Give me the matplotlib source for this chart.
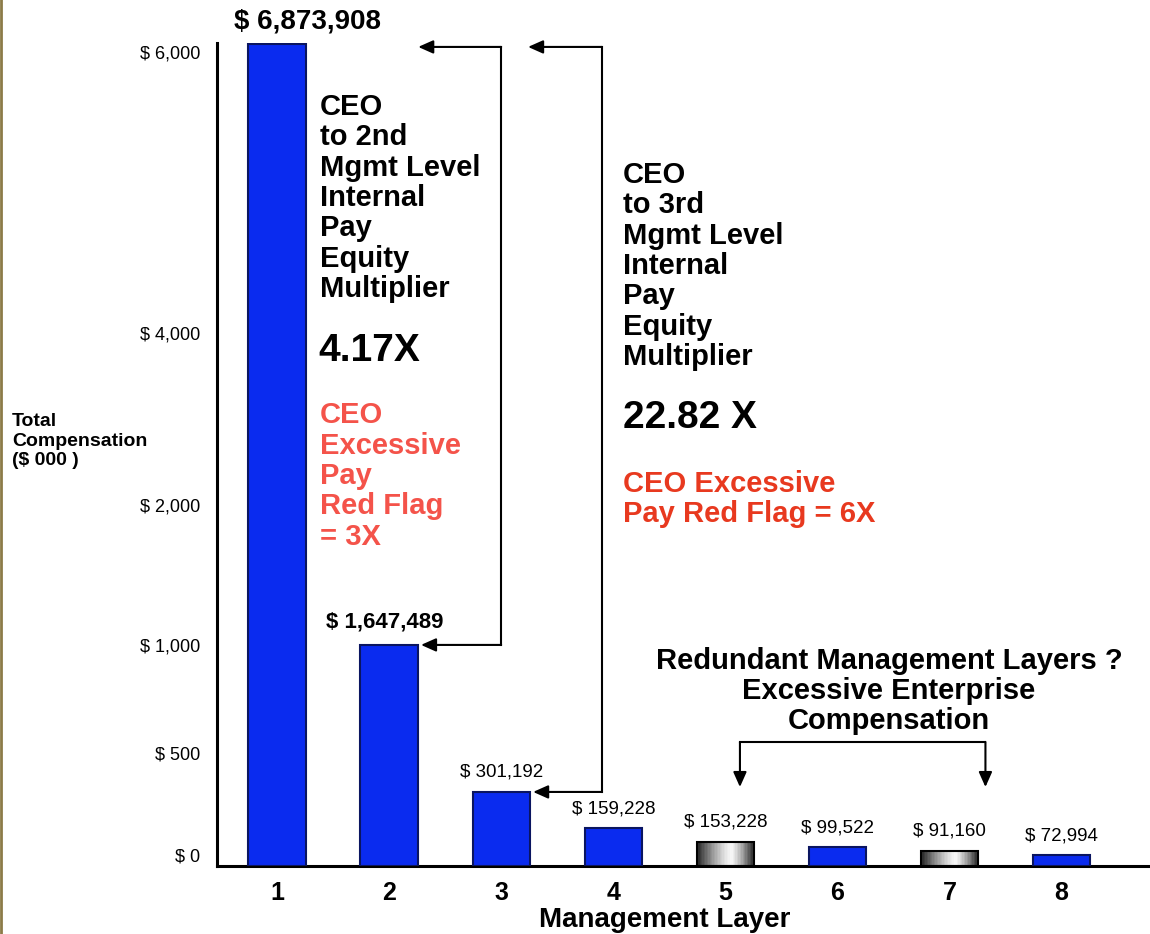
import numpy as np
import matplotlib
matplotlib.use('Agg')
import matplotlib.pyplot as plt
from matplotlib.transforms import ScaledTranslation
from matplotlib.lines import Line2D

plt.rcParams['font.family'] = ['Liberation Sans', 'DejaVu Sans']

# data
layers = [1, 2, 3, 4, 5, 6, 7, 8]
comp_labels = ['$ 6,873,908', '$ 1,647,489', '$ 301,192', '$ 159,228',
               '$ 153,228', '$ 99,522', '$ 91,160', '$ 72,994']
bar_heights = [6135, 1079, 363, 186, 118, 93, 74, 54]
gray_layers = [5, 7]
ytick_vals = [0, 500, 1000, 2000, 4000, 6000]
ytick_labels = ['$ 0', '$ 500', '$ 1,000', '$ 2,000', '$ 4,000', '$ 6,000']

# piecewise axis: value -> pixel height above the baseline
knot_vals = [-1000, 0, 500, 1000, 2000, 4000, 6000, 20000]
knot_px = [-204, 0, 102, 210, 350, 522, 803, 2770]


def fwd(v):
    return np.interp(v, knot_vals, knot_px)


def inv(p):
    return np.interp(p, knot_px, knot_vals)


W, H = 1150, 934
fig = plt.figure(figsize=(11.5, 9.34), dpi=100)
fig.patch.set_facecolor('white')


def fx(px):
    return px / W


def fy(py):
    return 1 - py / H


ax = fig.add_axes([fx(217), fy(866), (1150 - 217) / W, (866 - 43) / H])
ax.set_yscale('function', functions=(fwd, inv))
ax.set_ylim(0, 6142)
ax.set_xlim(0.465, 8.788)

blue = '#0A2BEF'
edge = '#0A1560'
bw = 0.51
for x, h in zip(layers, bar_heights):
    if x in gray_layers:
        # metallic look: thin slices with a grey ramp
        n = 40
        sw = bw / n
        for i in range(n):
            t = (i + 0.5) / n
            pk = 0.6
            d = (t - pk) / pk if t < pk else (t - pk) / (1 - pk)
            g = 0.97 - 0.85 * abs(d) ** 1.3
            ax.bar(x - bw / 2 + (i + 0.5) * sw, h, width=sw * 1.02,
                   color=str(g), linewidth=0, zorder=2)
        ax.bar(x, h, width=bw, facecolor='none', edgecolor='black',
               linewidth=1.5, zorder=3)
    else:
        ax.bar(x, h, width=bw, color=blue, edgecolor=edge, linewidth=1.5, zorder=3)

# value labels
for i, (x, h, lab) in enumerate(zip(layers, bar_heights, comp_labels)):
    if i == 0:
        ax.annotate(lab, (x, h), xytext=(22, 16), textcoords='offset points',
                    ha='center', va='center', fontsize=20, fontweight='bold',
                    annotation_clip=False)
    elif i == 1:
        ax.annotate(lab, (x, h), xytext=(-3, 16.5), textcoords='offset points',
                    ha='center', va='center', fontsize=16, fontweight='bold')
    else:
        ax.annotate(lab, (x, h), xytext=(0, 14), textcoords='offset points',
                    ha='center', va='center', fontsize=13.5)

# axes styling
for s in ['top', 'right']:
    ax.spines[s].set_visible(False)
ax.spines['left'].set_linewidth(2.2)
ax.spines['bottom'].set_linewidth(2.2)
ax.set_xticks(layers)
ax.set_xticklabels([str(l) for l in layers], fontsize=18, fontweight='bold')
ax.tick_params(axis='x', length=0, pad=11)
ax.set_yticks(ytick_vals)
ax.set_yticklabels(ytick_labels, fontsize=13)
ax.tick_params(axis='y', length=0, pad=12)
ax.minorticks_off()
shift = ScaledTranslation(0, 0.11, fig.dpi_scale_trans)
for tk in ax.yaxis.get_major_ticks():
    tk.label1.set_transform(tk.label1.get_transform() + shift)

ax.set_xlabel('Management Layer', fontsize=20, fontweight='bold')
ax.xaxis.set_label_coords((665 - 217) / 933, -(920 - 866) / 823)
ax.xaxis.label.set_va('center')

fig.text(fx(12), fy(441), 'Total\nCompensation\n($ 000 )', fontsize=14,
         fontweight='bold', ha='left', va='center', linespacing=1.2)

# arrows
lw = 1.5
ap = dict(arrowstyle='-|>,head_length=0.9,head_width=0.4', color='black',
          lw=lw, shrinkA=0, shrinkB=0)
top_y = 6114
xa, xb = 3.0, 3.9
# CEO -> layer 2
ax.plot([xa, xa], [bar_heights[1], top_y], color='black', lw=lw, clip_on=False)
ax.annotate('', xy=(2 + bw / 2 + 0.03, bar_heights[1]), xytext=(xa, bar_heights[1]),
            arrowprops=ap)
ax.annotate('', xy=(2.26, top_y), xytext=(xa, top_y), arrowprops=ap,
            annotation_clip=False)
# CEO -> layer 3
ax.plot([xb, xb], [bar_heights[2], top_y], color='black', lw=lw, clip_on=False)
ax.annotate('', xy=(3 + bw / 2 + 0.03, bar_heights[2]), xytext=(xb, bar_heights[2]),
            arrowprops=ap)
ax.annotate('', xy=(3.24, top_y), xytext=(xb, top_y), arrowprops=ap,
            annotation_clip=False)
# bracket over layers 5 and 7
br_y, br_tip = 602, 387
bx1, bx2 = 5.13, 7.32
ax.plot([bx1, bx2], [br_y, br_y], color='black', lw=lw)
ax.annotate('', xy=(bx1, br_tip), xytext=(bx1, br_y), arrowprops=ap)
ax.annotate('', xy=(bx2, br_tip), xytext=(bx2, br_y), arrowprops=ap)

# annotation texts
ls = 1.11
bold = dict(fontweight='bold', ha='left', va='center', linespacing=ls)
fig.text(fx(320), fy(198), 'CEO\nto 2nd\nMgmt Level\nInternal\nPay\nEquity\nMultiplier',
         fontsize=21, **bold)
fig.text(fx(318), fy(351), '4.17X', fontsize=28, **bold)
fig.text(fx(320), fy(476), 'CEO\nExcessive\nPay\nRed Flag\n= 3X', fontsize=21,
         color='#F4534A', **bold)
fig.text(fx(623), fy(266), 'CEO\nto 3rd\nMgmt Level\nInternal\nPay\nEquity\nMultiplier',
         fontsize=21, **bold)
fig.text(fx(623), fy(418), '22.82 X', fontsize=28, **bold)
fig.text(fx(623), fy(499), 'CEO Excessive\nPay Red Flag = 6X', fontsize=21,
         color='#E8391F', **bold)
fig.text(fx(889), fy(691), 'Redundant Management Layers ?\nExcessive Enterprise\nCompensation',
         fontsize=21, fontweight='bold', ha='center', va='center', linespacing=ls,
         multialignment='center')

# thin gold border on the left edge
fig.add_artist(Line2D([0.001, 0.001], [0, 1], transform=fig.transFigure,
                      color='#8C7B48', lw=2))

fig.savefig('out.png', dpi=100)
